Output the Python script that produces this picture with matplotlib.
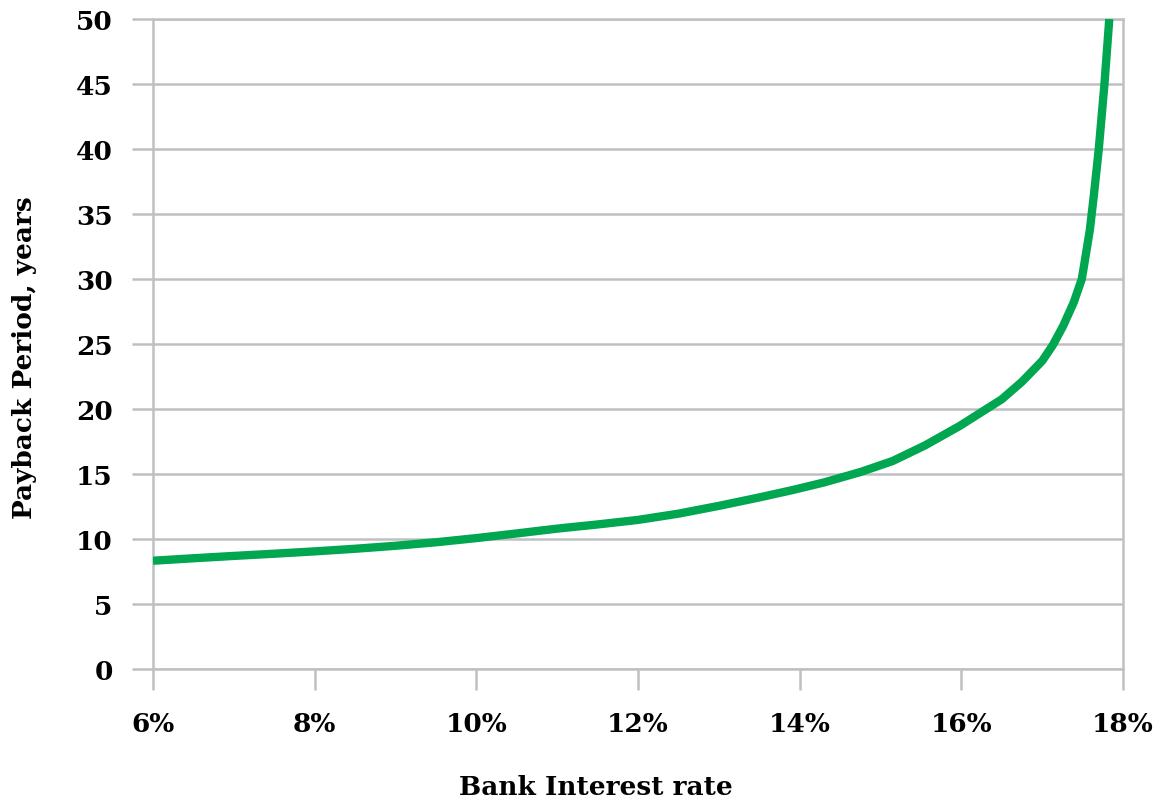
import matplotlib
matplotlib.use('Agg')
import matplotlib.pyplot as plt

# bank interest rate (%) vs payback period (years)
rate = [6.0, 6.5, 7.0, 7.5, 8.0, 8.5, 9.0, 9.5, 10.0, 10.5, 11.0, 11.5, 12.0,
        12.5, 13.0, 13.5, 13.9, 14.3, 14.75, 15.15, 15.55, 15.98, 16.5,
        16.75, 17.0, 17.13, 17.26, 17.39, 17.49, 17.53, 17.59, 17.64, 17.7,
        17.77, 17.83]
payback = [8.33, 8.52, 8.7, 8.87, 9.05, 9.25, 9.48, 9.75, 10.07, 10.43, 10.8,
           11.12, 11.47, 11.95, 12.55, 13.2, 13.75, 14.35, 15.15, 16.0, 17.2,
           18.7, 20.75, 22.1, 23.7, 24.9, 26.4, 28.2, 30.0, 31.5, 33.8, 36.5,
           40.0, 45.0, 50.0]

x_ticks = [6, 8, 10, 12, 14, 16, 18]
y_ticks = [0, 5, 10, 15, 20, 25, 30, 35, 40, 45, 50]

grey = '#C0C0C3'
plt.rcParams['font.family'] = ['DejaVu Serif']
plt.rcParams['font.weight'] = 'bold'

fig = plt.figure(figsize=(11.61, 8.03), dpi=100)
ax = fig.add_axes([0.1318, 0.1656, 0.8355, 0.8095])

ax.plot(rate, payback, color='#00A650', lw=6, solid_capstyle='butt',
        solid_joinstyle='round', zorder=3)

ax.set_xlim(6, 18)
ax.set_ylim(0, 50)
ax.set_xticks(x_ticks)
ax.set_xticklabels(['%d%%' % v for v in x_ticks])
ax.set_yticks(y_ticks)

ax.grid(axis='y', color=grey, lw=1.8)
for s in ax.spines.values():
    s.set_color(grey)
    s.set_linewidth(1.8)
ax.tick_params(axis='both', color=grey, width=1.8, length=15, labelsize=19)
ax.tick_params(axis='x', pad=15)
ax.tick_params(axis='y', pad=14)
for lab in ax.get_xticklabels() + ax.get_yticklabels():
    lab.set_fontweight('bold')

ax.set_xlabel('Bank Interest rate', fontsize=19, fontweight='bold')
ax.set_ylabel('Payback Period, years', fontsize=19, fontweight='bold')
ax.xaxis.set_label_coords(0.457, -0.162)
ax.yaxis.set_label_coords(-0.12, 0.48)

fig.savefig('out.png', dpi=100)
